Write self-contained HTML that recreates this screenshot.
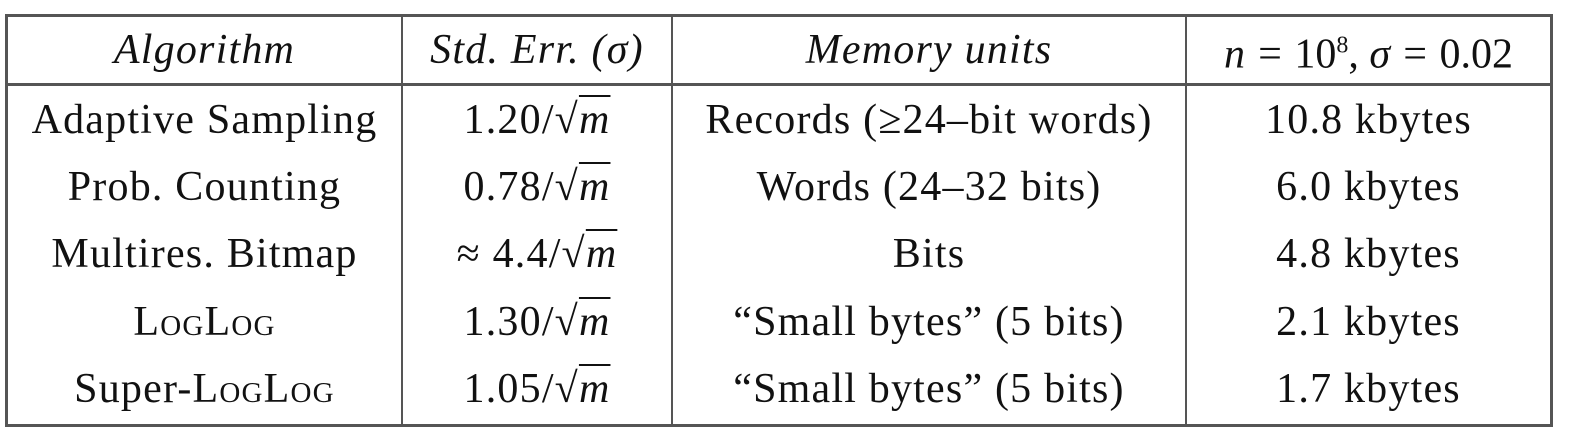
<!DOCTYPE html>
<html><head><meta charset="utf-8">
<style>
body{margin:0;width:1582px;height:442px;background:#fff;position:relative;overflow:hidden;font-family:"Liberation Serif","DejaVu Serif",serif;color:#111}
.l{position:absolute;background:#555}
.c{position:absolute;text-align:center;font-size:42px;letter-spacing:1.2px;line-height:42px;white-space:nowrap;transform:translateY(-50%)}
.h{font-style:italic}
.sc{font-variant:small-caps}
.sq{text-decoration:overline;text-decoration-thickness:2px}
</style></head><body>
<div class="l" style="left:5px;top:14px;width:1547px;height:3px"></div>
<div class="l" style="left:5px;top:83px;width:1547px;height:3px"></div>
<div class="l" style="left:5px;top:424px;width:1547px;height:3px"></div>
<div class="l" style="left:5px;top:14px;width:3px;height:413px"></div>
<div class="l" style="left:401px;top:14px;width:2px;height:413px"></div>
<div class="l" style="left:671px;top:14px;width:2px;height:413px"></div>
<div class="l" style="left:1185px;top:14px;width:2px;height:413px"></div>
<div class="l" style="left:1550px;top:14px;width:3px;height:413px"></div>

<div class="c h" style="left:8px;width:393px;top:50px">Algorithm</div>
<div class="c h" style="left:403px;width:268px;top:50px">Std. Err. (σ)</div>
<div class="c h" style="left:673px;width:512px;top:50px">Memory units</div>
<div class="c h" style="left:1187px;width:363px;top:50px;letter-spacing:0">n = <span style="font-style:normal">10</span><sup style="font-size:24px;font-style:normal">8</sup><span style="font-style:normal">,</span> σ = <span style="font-style:normal">0.02</span></div>

<div>
<div class="c" style="left:8px;width:393px;top:120px">Adaptive Sampling</div>
<div class="c" style="left:403px;width:268px;top:120px">1.20/√<span class="sq"><i>m</i></span></div>
<div class="c" style="left:673px;width:512px;top:120px">Records (≥24–bit words)</div>
<div class="c" style="left:1187px;width:363px;top:120px">10.8 kbytes</div>
</div>
<div>
<div class="c" style="left:8px;width:393px;top:187px">Prob. Counting</div>
<div class="c" style="left:403px;width:268px;top:187px">0.78/√<span class="sq"><i>m</i></span></div>
<div class="c" style="left:673px;width:512px;top:187px">Words (24–32 bits)</div>
<div class="c" style="left:1187px;width:363px;top:187px">6.0 kbytes</div>
</div>
<div>
<div class="c" style="left:8px;width:393px;top:254px">Multires. Bitmap</div>
<div class="c" style="left:403px;width:268px;top:254px">≈ 4.4/√<span class="sq"><i>m</i></span></div>
<div class="c" style="left:673px;width:512px;top:254px">Bits</div>
<div class="c" style="left:1187px;width:363px;top:254px">4.8 kbytes</div>
</div>
<div>
<div class="c sc" style="left:8px;width:393px;top:322px">LogLog</div>
<div class="c" style="left:403px;width:268px;top:322px">1.30/√<span class="sq"><i>m</i></span></div>
<div class="c" style="left:673px;width:512px;top:322px">“Small bytes” (5 bits)</div>
<div class="c" style="left:1187px;width:363px;top:322px">2.1 kbytes</div>
</div>
<div>
<div class="c" style="left:8px;width:393px;top:389px">Super-<span class="sc">LogLog</span></div>
<div class="c" style="left:403px;width:268px;top:389px">1.05/√<span class="sq"><i>m</i></span></div>
<div class="c" style="left:673px;width:512px;top:389px">“Small bytes” (5 bits)</div>
<div class="c" style="left:1187px;width:363px;top:389px">1.7 kbytes</div>
</div>
</body></html>
